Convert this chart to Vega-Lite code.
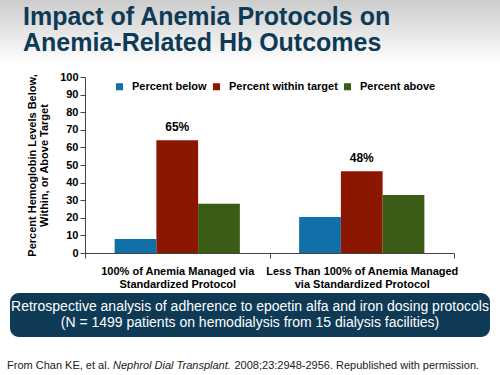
{
  "$schema": "https://vega.github.io/schema/vega-lite/v6.json",
  "padding": 0,
  "background": "white",
  "spacing": 0,
  "config": {
    "view": {"stroke": null},
    "font": "Liberation Sans",
    "concat": {"spacing": 0}
  },
  "datasets": {
    "hb": [
      {"group": "100% of Anemia Managed via\nStandardized Protocol", "series": "Percent below", "value": 8, "label": ""},
      {"group": "100% of Anemia Managed via\nStandardized Protocol", "series": "Percent within target", "value": 64, "label": "65%"},
      {"group": "100% of Anemia Managed via\nStandardized Protocol", "series": "Percent above", "value": 28, "label": ""},
      {"group": "Less Than 100% of Anemia Managed\nvia Standardized Protocol", "series": "Percent below", "value": 20.5, "label": ""},
      {"group": "Less Than 100% of Anemia Managed\nvia Standardized Protocol", "series": "Percent within target", "value": 46.5, "label": "48%"},
      {"group": "Less Than 100% of Anemia Managed\nvia Standardized Protocol", "series": "Percent above", "value": 33, "label": ""}
    ],
    "one": [{"k": 1}]
  },
  "vconcat": [
    {
      "width": 500,
      "height": 71,
      "view": {"fill": {"gradient": "linear", "x1": 0, "y1": 0, "x2": 0, "y2": 1, "stops": [{"offset": 0, "color": "#cccccc"}, {"offset": 0.9, "color": "#ffffff"}]}, "stroke": null},
      "data": {"name": "one"},
      "mark": {"type": "text", "text": ["Impact of Anemia Protocols on", "Anemia-Related Hb Outcomes"], "align": "left", "baseline": "middle", "dx": -227, "dy": -18.5, "lineHeight": 26, "fontSize": 25, "fontWeight": "bold", "color": "#0d3a55"},
      "encoding": {}
    },
    {
      "bounds": "flush",
      "spacing": 0,
      "hconcat": [
        {
          "width": 85,
          "height": 176,
          "data": {"name": "one"},
          "mark": {"type": "point", "opacity": 0},
          "encoding": {}
        },
        {
          "width": 369,
          "height": 176,
          "data": {"name": "hb"},
          "encoding": {
            "x": {
              "field": "group",
              "type": "nominal",
              "sort": null,
              "title": null,
              "scale": {"paddingInner": 0, "paddingOuter": 0},
              "axis": {
                "labelAngle": 0,
                "labelExpr": "split(datum.label, '\\n')",
                "labelFontSize": 11,
                "labelFontWeight": "bold",
                "labelColor": "#000000",
                "labelLineHeight": 13,
                "labelPadding": 7,
                "labelBaseline": "top",
                "tickBand": "extent",
                "tickSize": 5,
                "tickColor": "#444444",
                "domainColor": "#444444",
                "labelLimit": 300
              }
            },
            "y": {
              "field": "value",
              "type": "quantitative",
              "scale": {"domain": [0, 100]},
              "axis": {
                "values": [0, 10, 20, 30, 40, 50, 60, 70, 80, 90, 100],
                "grid": false,
                "title": ["Percent Hemoglobin Levels Below,", "Within, or Above Target"],
                "titleFontSize": 11,
                "titleFontWeight": "bold",
                "titleColor": "#000000",
                "titleLineHeight": 12,
                "titlePadding": 10,
                "labelFontSize": 11,
                "labelFontWeight": "bold",
                "labelColor": "#000000",
                "labelPadding": 2,
                "tickSize": 5,
                "tickColor": "#444444",
                "domainColor": "#444444"
              }
            },
            "xOffset": {
              "field": "series",
              "type": "nominal",
              "sort": ["Percent below", "Percent within target", "Percent above"],
              "scale": {"paddingInner": 0, "paddingOuter": 0.71}
            }
          },
          "layer": [
            {
              "mark": {"type": "bar"},
              "encoding": {
                "color": {
                  "field": "series",
                  "type": "nominal",
                  "sort": ["Percent below", "Percent within target", "Percent above"],
                  "scale": {"domain": ["Percent below", "Percent within target", "Percent above"], "range": ["#1170a8", "#8c1700", "#3a5c14"]},
                  "legend": {
                    "title": null,
                    "orient": "none",
                    "direction": "horizontal",
                    "legendX": 114,
                    "legendY": 81,
                    "symbolType": "square",
                    "symbolSize": 50,
                    "symbolStrokeWidth": 0,
                    "labelFontSize": 11,
                    "labelFontWeight": "bold",
                    "labelColor": "#000000",
                    "labelOffset": 7,
                    "columnPadding": 4
                  }
                }
              }
            },
            {
              "transform": [{"filter": "datum.label != ''"}],
              "mark": {"type": "text", "baseline": "bottom", "dy": -6, "fontSize": 12, "fontWeight": "bold", "color": "#000000"},
              "encoding": {"text": {"field": "label"}}
            }
          ]
        }
      ]
    },
    {
      "width": 500,
      "height": 4,
      "view": {"fill": "#ffffff", "stroke": null},
      "data": {"name": "one"},
      "mark": {"type": "point", "opacity": 0, "size": 1},
      "encoding": {}
    },
    {
      "bounds": "flush",
      "spacing": 0,
      "hconcat": [
        {
          "width": 10,
          "height": 44,
          "data": {"name": "one"},
          "mark": {"type": "point", "opacity": 0, "size": 1},
          "encoding": {}
        },
        {
          "width": 480,
          "height": 44,
          "view": {"fill": "#0e3a56", "cornerRadius": 9, "stroke": null},
          "data": {"name": "one"},
          "mark": {"type": "text", "text": ["Retrospective analysis of adherence to epoetin alfa and iron dosing protocols", "(N = 1499 patients on hemodialysis from 15 dialysis facilities)"], "align": "center", "baseline": "middle", "dy": -8, "lineHeight": 16, "fontSize": 14, "color": "#ffffff"},
          "encoding": {}
        }
      ]
    },
    {
      "width": 500,
      "height": 38,
      "view": {"fill": "#ffffff", "stroke": null},
      "data": {"name": "one"},
      "layer": [
        {
          "mark": {"type": "text", "text": "From Chan KE, et al.", "align": "left", "baseline": "middle", "dx": -243, "dy": 10, "fontSize": 11, "color": "#1a1a1a"},
          "encoding": {}
        },
        {
          "mark": {"type": "text", "text": "Nephrol Dial Transplant.", "align": "left", "baseline": "middle", "dx": -137, "dy": 10, "fontSize": 11, "fontStyle": "italic", "color": "#1a1a1a"},
          "encoding": {}
        },
        {
          "mark": {"type": "text", "text": "2008;23:2948-2956. Republished with permission.", "align": "left", "baseline": "middle", "dx": -15.5, "dy": 10, "fontSize": 11, "color": "#1a1a1a"},
          "encoding": {}
        }
      ]
    }
  ]
}
